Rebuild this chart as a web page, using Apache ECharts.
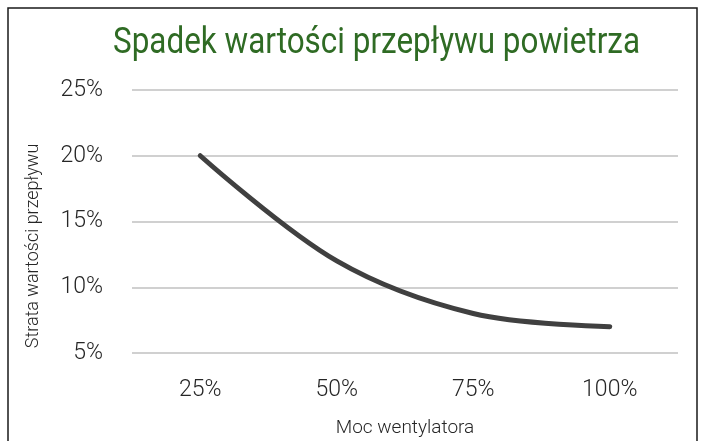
<!DOCTYPE html>
<html>
<head>
<meta charset="utf-8">
<script src="https://cdn.jsdelivr.net/npm/echarts@6/dist/echarts.min.js"></script>
<style>
html, body { margin: 0; padding: 0; background: #fff; }
#chart { width: 701px; height: 441px; }
</style>
</head>
<body>
<div id="chart"></div>
<script>
// moc wentylatora (kategorie osi X)
const categories = ['25%', '50%', '75%', '100%']
// strata wartości przepływu, w procentach
const lossValues = [20, 12, 8, 7]
// podziałka osi Y
const yTicks = [5, 10, 15, 20, 25]

const font = 'Roboto, sans-serif'
const titleText = 'Spadek wartości przepływu powietrza'

// brak Roboto Condensed -> zwężamy zwykłe Roboto
function textWidth(text, css) {
    let ctx = document.createElement('canvas').getContext('2d')
    ctx.font = css
    return ctx.measureText(text).width
}
const titleFont = '36px ' + font
const titleScale = 527 / textWidth(titleText, titleFont)

let myChart = echarts.init(document.getElementById('chart'))

let option = {
    animation: false,
    textStyle: { fontFamily: font },
    graphic: [
        {
            // ramka wykresu
            type: 'rect',
            shape: { x: 8, y: 8, width: 689, height: 450 },
            style: { fill: 'none', stroke: '#1a1a1a', lineWidth: 1.5 },
            silent: true
        },
        {
            // tytuł
            type: 'text',
            x: 113,
            y: 44,
            scaleX: titleScale,
            style: {
                text: titleText,
                fill: '#2f6b24',
                font: titleFont,
                align: 'left',
                verticalAlign: 'middle'
            }
        },
        {
            type: 'text',
            x: 33,
            y: 246,
            rotation: Math.PI / 2,
            style: {
                text: 'Strata wartości przepływu',
                fill: '#262626',
                font: '300 18px ' + font,
                align: 'center',
                verticalAlign: 'middle'
            }
        }
    ],
    grid: {
        left: 132,
        right: 23,
        top: 90,
        bottom: 88,
        containLabel: false,
        outerBoundsMode: 'none'
    },
    xAxis: {
        type: 'category',
        data: categories,
        boundaryGap: true,
        axisLine: { show: false },
        axisTick: { show: false },
        axisLabel: {
            color: '#262626',
            fontSize: 23,
            fontWeight: 300,
            margin: 26,
            fontFamily: font
        },
        name: 'Moc wentylatora',
        nameLocation: 'middle',
        nameGap: 66,
        nameTextStyle: {
            color: '#262626',
            fontSize: 19,
            fontWeight: 300,
            fontFamily: font
        }
    },
    yAxis: {
        type: 'value',
        min: yTicks[0],
        max: yTicks[yTicks.length - 1],
        interval: yTicks[1] - yTicks[0],
        axisLine: { show: false },
        axisTick: { show: false },
        axisLabel: {
            color: '#262626',
            fontSize: 23,
            fontWeight: 300,
            margin: 29,
            fontFamily: font,
            formatter: '{value}%'
        },
        splitLine: {
            lineStyle: { color: '#d0d0d0', width: 2 }
        }
    },
    series: [
        {
            name: 'Strata wartości przepływu',
            type: 'line',
            data: lossValues,
            smooth: 0.35,
            symbol: 'none',
            lineStyle: {
                color: '#404040',
                width: 5,
                cap: 'round'
            }
        }
    ]
}

myChart.setOption(option)
</script>
</body>
</html>
